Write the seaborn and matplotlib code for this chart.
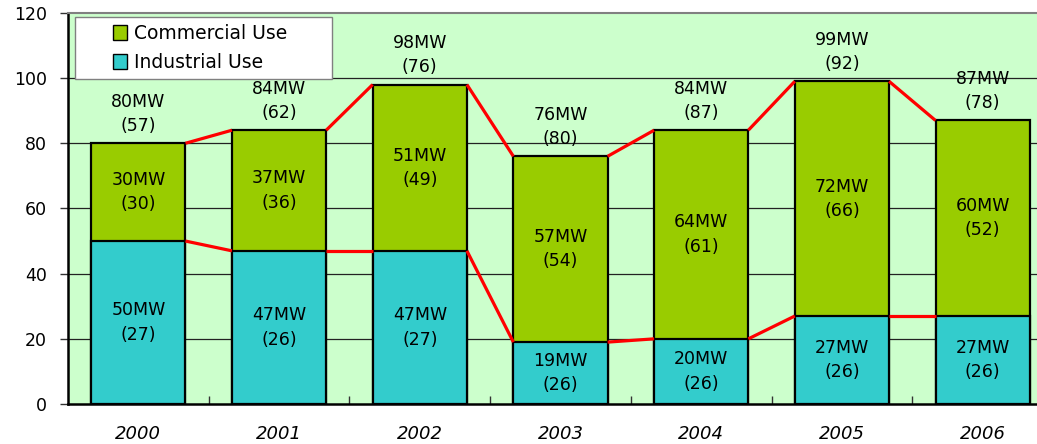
import numpy as np
import pandas as pd
import matplotlib
matplotlib.use("Agg")
import matplotlib.pyplot as plt
import seaborn as sns
from matplotlib.patches import Patch, Rectangle
from matplotlib.legend_handler import HandlerPatch

years = ["2000", "2001", "2002", "2003", "2004", "2005", "2006"]
industrial_mw = [50, 47, 47, 19, 20, 27, 27]
commercial_mw = [30, 37, 51, 57, 64, 72, 60]
industrial_cnt = [27, 26, 27, 26, 26, 26, 26]
commercial_cnt = [30, 36, 49, 54, 61, 66, 52]
total_cnt = [57, 62, 76, 80, 87, 92, 78]

GREEN = "#99cc00"
CYAN = "#33cccc"
BG = "#ccffcc"
BAR_W = 0.67

sns.set_style("white")
plt.rcParams["font.family"] = ["DejaVu Sans"]
plt.rcParams["text.color"] = "black"
plt.rcParams["xtick.color"] = "black"
plt.rcParams["ytick.color"] = "black"

df = pd.DataFrame({
    "year": years,
    "industrial": industrial_mw,
    "commercial": commercial_mw,
})
df["total"] = df["industrial"] + df["commercial"]

fig = plt.figure(figsize=(10.37, 4.44), dpi=100)
ax = fig.add_axes([68 / 1037, 0.09, 985 / 1037, 0.881])
ax.set_facecolor(BG)

# stacked bars: total first (green), industrial over it (cyan)
sns.barplot(data=df, x="year", y="total", color=GREEN, saturation=1,
            width=BAR_W, edgecolor="black", linewidth=1.6, ax=ax, zorder=3)
sns.barplot(data=df, x="year", y="industrial", color=CYAN, saturation=1,
            width=BAR_W, edgecolor="black", linewidth=1.6, ax=ax, zorder=4)

# red series lines between neighbouring bars
half = BAR_W / 2
for col in ["total", "industrial"]:
    vals = df[col].values
    for i in range(len(vals) - 1):
        ax.plot([i + half, i + 1 - half], [vals[i], vals[i + 1]],
                color="red", lw=2.3, zorder=5, solid_capstyle="butt")

# labels
fs = 12.5
for i, r in df.iterrows():
    ax.text(i, r["industrial"] / 2, f"{r['industrial']}MW\n({industrial_cnt[i]})",
            ha="center", va="center", fontsize=fs, linespacing=1.45, zorder=6)
    ax.text(i, r["industrial"] + r["commercial"] / 2,
            f"{r['commercial']}MW\n({commercial_cnt[i]})",
            ha="center", va="center", fontsize=fs, linespacing=1.45, zorder=6)
    ax.text(i, r["total"] + 2.5, f"{r['total']}MW\n({total_cnt[i]})",
            ha="center", va="bottom", fontsize=fs, linespacing=1.45, zorder=6)

ax.set_xlim(-0.5, 6.5)
ax.set_ylim(0, 120)
ax.set_yticks(range(0, 121, 20))
ax.set_xlabel("")
ax.set_ylabel("")
for y in range(20, 101, 20):
    ax.axhline(y, color="#222222", lw=0.9, zorder=1)

ax.tick_params(axis="y", direction="out", length=6, width=1, labelsize=12.5,
               left=True, pad=9, color="#333333")
ax.set_xticks(range(len(years)))
ax.set_xticklabels(years, fontstyle="italic", fontsize=13)
ax.tick_params(axis="x", length=0, pad=15)
ax.set_xticks(np.arange(0.5, 6.5, 1), minor=True)
ax.tick_params(axis="x", which="minor", direction="in", length=6, width=1,
               bottom=True, color="#333333")

for s in ["left", "bottom"]:
    ax.spines[s].set_color("black")
    ax.spines[s].set_linewidth(1.8)
ax.spines["top"].set_color("#808080")
ax.spines["top"].set_linewidth(1.5)
ax.spines["right"].set_visible(False)


def square_handle(legend, orig_handle, xdescent, ydescent, width, height, fontsize):
    # square swatch sitting at the right end of the handle box
    return Rectangle((width - height - xdescent, -ydescent), height, height)


handles = [Patch(facecolor=GREEN, edgecolor="black", label="Commercial Use"),
           Patch(facecolor=CYAN, edgecolor="black", label="Industrial Use")]
leg = ax.legend(handles=handles, loc="upper left",
                bbox_to_anchor=(0.0071, 0.99 - 0.153, 0.261, 0.153), mode="expand",
                fontsize=13.5, frameon=True, fancybox=False, framealpha=1,
                edgecolor="#808080", handlelength=2.4, handleheight=0.85,
                handletextpad=0.37, borderpad=0.4, labelspacing=0.5,
                borderaxespad=0,
                handler_map={Patch: HandlerPatch(patch_func=square_handle)})
leg.get_frame().set_linewidth(1.0)
leg.set_zorder(7)

fig.savefig("out.png", dpi=100)
